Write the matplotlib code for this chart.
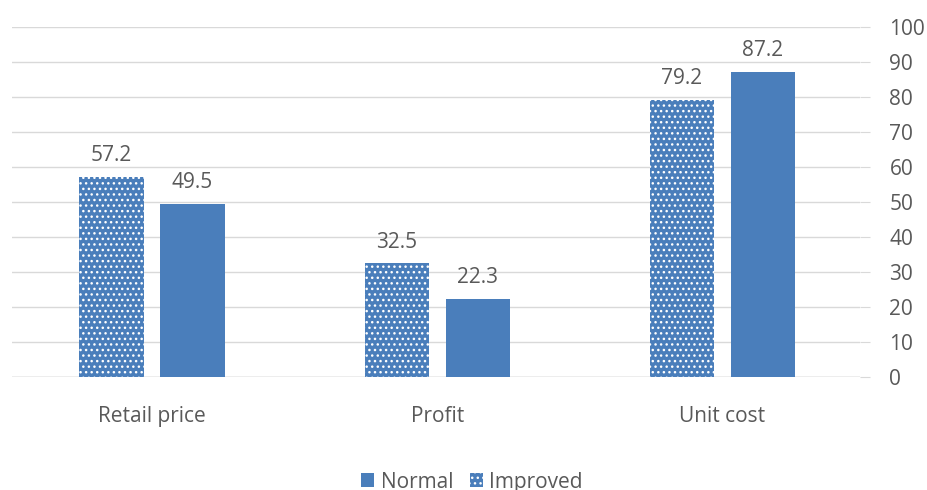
import matplotlib.pyplot as plt
import numpy as np

# Chart data
categories = ["Retail price", "Profit", "Unit cost"]
improved = [57.2, 32.5, 79.2]
normal = [49.5, 22.3, 87.2]

plt.rcParams['font.family'] = ['Open Sans', 'DejaVu Sans']
plt.rcParams['hatch.color'] = 'white'
plt.rcParams['hatch.linewidth'] = 1.0

bar_color = '#4a7ebb'
text_color = '#595959'
grid_color = '#d9d9d9'
fs = 15

fig = plt.figure(figsize=(9.27, 4.9), dpi=100)
ax = fig.add_axes([0.013, 0.2306, 0.915, 0.7144])

x = np.arange(len(categories))
width = 0.225
off = 0.142

b_imp = ax.bar(x - off, improved, width, color=bar_color, hatch='...',
               edgecolor='white', linewidth=0, label='Improved', zorder=2)
b_norm = ax.bar(x + off, normal, width, color=bar_color, linewidth=0,
                label='Normal', zorder=2)

for bars, vals in ((b_imp, improved), (b_norm, normal)):
    for rect, v in zip(bars, vals):
        ax.text(rect.get_x() + rect.get_width() / 2, v + 3.0, f"{v:.1f}",
                ha='center', va='bottom', fontsize=fs, color=text_color)

ax.set_xlim(-0.491, 2.484)
ax.set_ylim(0, 100)
ax.set_yticks(np.arange(0, 101, 10))
ax.yaxis.tick_right()
ax.grid(axis='y', color=grid_color, linewidth=1, zorder=0)
ax.tick_params(axis='y', length=7, color=grid_color, labelsize=fs,
               labelcolor=text_color, pad=14)
ax.set_xticks(x)
ax.set_xticklabels(categories)
ax.tick_params(axis='x', length=0, labelsize=fs, labelcolor=text_color, pad=21)
for s in ax.spines.values():
    s.set_visible(False)
ax.axhline(0, color='#bfbfbf', linewidth=1, zorder=1)

handles = [b_norm, b_imp]
fig.legend(handles, ['Normal', 'Improved'], loc='center', bbox_to_anchor=(0.509, 0.016),
           ncol=2, frameon=False, fontsize=fs, labelcolor=text_color,
           handlelength=0.65, handleheight=0.65, handletextpad=0.3, columnspacing=0.8)

fig.savefig('out.png', dpi=100)
